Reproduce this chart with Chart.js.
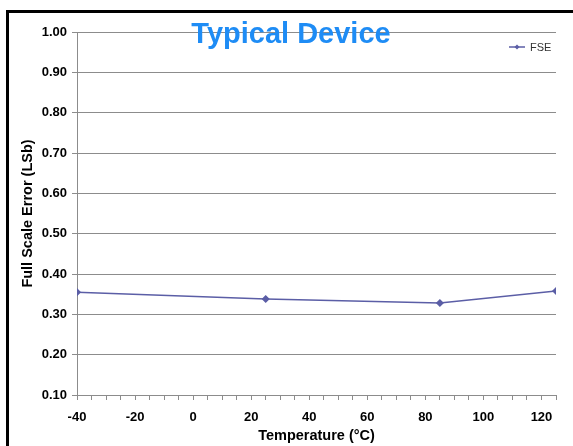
<!DOCTYPE html>
<html lang="en">
<head>
  <meta charset="UTF-8">
  <title>Typical Device - Full Scale Error</title>
  <style>
    body {
      margin: 0;
      background: #ffffff;
      font-family: Arial, "Liberation Sans", sans-serif;
      overflow: hidden;
    }
    .frame {
      position: absolute;
      left: 6px;
      top: 10px;
      width: 620px;
      height: 480px;
      border: 3px solid #000;
    }
    .wrap {
      position: absolute;
      left: 0;
      top: 0;
      width: 573px;
      height: 446px;
    }
  </style>
  <script src="https://cdn.jsdelivr.net/npm/chart.js"></script>
</head>
<body>
  <div class="frame"></div>
  <div class="wrap">
    <canvas id="fseChart" width="573" height="446"></canvas>
  </div>

  <script>
    // data
    const temps = [-40, 25, 85, 125];
    const fse = [0.355, 0.338, 0.328, 0.358];
    const seriesName = 'FSE';
    const chartTitle = 'Typical Device';
    const xTitle = 'Temperature (°C)';
    const yTitle = 'Full Scale Error (LSb)';

    const lineColor = '#5b5ea6';
    const gridColor = '#8c8c8c';

    // title over the top of the plot, plus the little legend at top right
    const overlayPlugin = {
      id: 'overlay',
      afterDraw(chart) {
        const ctx = chart.ctx;
        const area = chart.chartArea;
        ctx.save();
        ctx.font = 'bold 29px Arial, "Liberation Sans", sans-serif';
        ctx.fillStyle = '#1e8cf5';
        ctx.textAlign = 'center';
        ctx.textBaseline = 'alphabetic';
        ctx.fillText(chartTitle, 291, 43);

        // legend
        const lx = area.right - 47;
        const ly = area.top + 15;
        ctx.strokeStyle = lineColor;
        ctx.lineWidth = 1.5;
        ctx.beginPath();
        ctx.moveTo(lx, ly);
        ctx.lineTo(lx + 16, ly);
        ctx.stroke();
        ctx.fillStyle = lineColor;
        ctx.beginPath();
        ctx.moveTo(lx + 8, ly - 2.5);
        ctx.lineTo(lx + 10.5, ly);
        ctx.lineTo(lx + 8, ly + 2.5);
        ctx.lineTo(lx + 5.5, ly);
        ctx.closePath();
        ctx.fill();
        ctx.font = '11px Arial, "Liberation Sans", sans-serif';
        ctx.fillStyle = '#333';
        ctx.textAlign = 'left';
        ctx.textBaseline = 'middle';
        ctx.fillText(seriesName, lx + 21, ly + 1);
        ctx.restore();
      }
    };

    const tickFont = { family: 'Arial, "Liberation Sans", sans-serif', size: 13, weight: 'bold' };
    const titleFont = { family: 'Arial, "Liberation Sans", sans-serif', size: 14.5, weight: 'bold' };

    new Chart(document.getElementById('fseChart').getContext('2d'), {
      type: 'line',
      data: {
        datasets: [{
          label: seriesName,
          data: temps.map((t, i) => ({ x: t, y: fse[i] })),
          borderColor: lineColor,
          backgroundColor: lineColor,
          borderWidth: 1.5,
          pointStyle: 'rectRot',
          pointRadius: 3,
          pointHoverRadius: 3,
          tension: 0
        }]
      },
      options: {
        responsive: false,
        animation: false,
        layout: { padding: { left: 19, top: 32, right: 17, bottom: 0 } },
        plugins: {
          title: { display: false },
          tooltip: { enabled: false },
          legend: { display: false }
        },
        scales: {
          x: {
            type: 'linear',
            min: -40,
            max: 125,
            afterFit: s => { s.height = 51; },
            afterBuildTicks: s => {
              const t = [];
              for (let v = -40; v <= 125; v += 5) t.push({ value: v });
              s.ticks = t;
            },
            ticks: {
              autoSkip: false,
              maxRotation: 0,
              padding: 10,
              color: '#000',
              font: tickFont,
              callback: v => (v % 20 === 0 ? String(v) : '')
            },
            grid: {
              drawOnChartArea: false,
              tickLength: 5,
              color: gridColor
            },
            border: { color: gridColor },
            title: {
              display: true,
              text: xTitle,
              color: '#000',
              font: titleFont,
              padding: { top: 0, bottom: 1 }
            }
          },
          y: {
            min: 0.1,
            max: 1.0,
            afterFit: s => { s.width = 58; },
            ticks: {
              stepSize: 0.1,
              padding: 5,
              color: '#000',
              font: tickFont,
              callback: v => Number(v).toFixed(2)
            },
            grid: {
              color: gridColor,
              tickLength: 5
            },
            border: { color: gridColor },
            title: {
              display: true,
              text: yTitle,
              color: '#000',
              font: titleFont,
              padding: { top: 0, bottom: 0 }
            }
          }
        }
      },
      plugins: [overlayPlugin]
    });
  </script>
</body>
</html>
